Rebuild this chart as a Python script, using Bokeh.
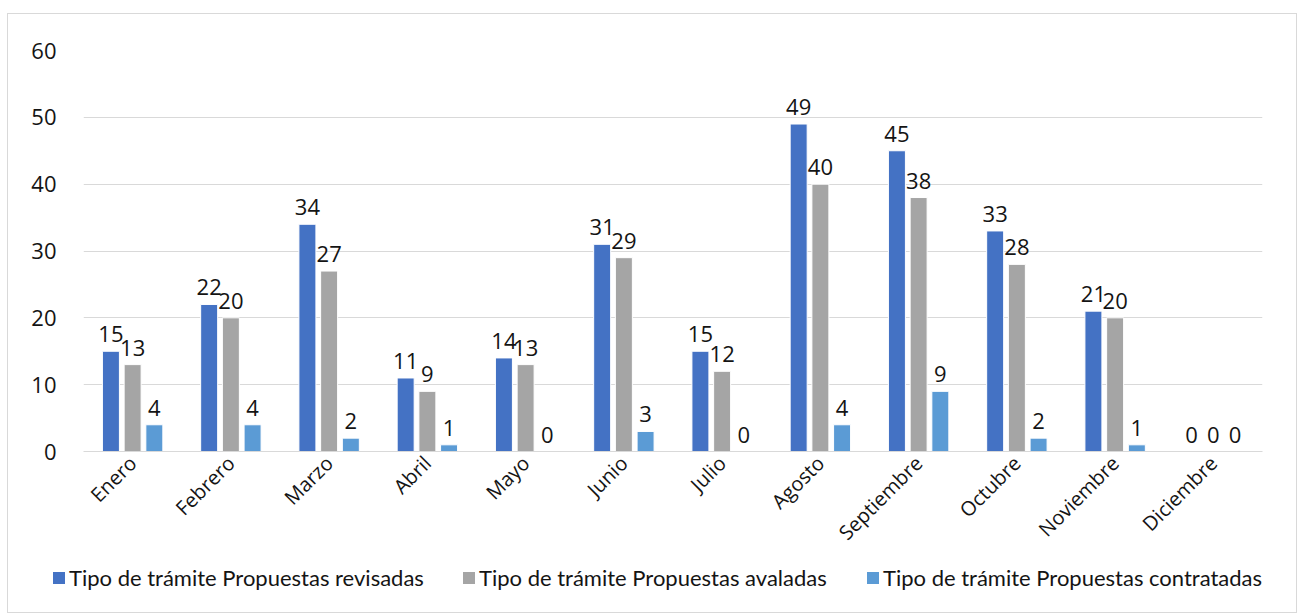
import math
from bokeh.plotting import figure
from bokeh.layouts import column
from bokeh.models import (ColumnDataSource, FactorRange, Range1d, FixedTicker, Div)
from bokeh.transform import dodge
from bokeh.core.properties import value
from bokeh.embed import file_html
from bokeh.resources import INLINE

months = ["Enero", "Febrero", "Marzo", "Abril", "Mayo", "Junio", "Julio",
          "Agosto", "Septiembre", "Octubre", "Noviembre", "Diciembre"]
revisadas = [15, 22, 34, 11, 14, 31, 15, 49, 45, 33, 21, 0]
avaladas = [13, 20, 27, 9, 13, 29, 12, 40, 38, 28, 20, 0]
contratadas = [4, 4, 2, 1, 0, 3, 0, 4, 9, 2, 1, 0]
series_names = ["Tipo de trámite Propuestas revisadas",
                "Tipo de trámite Propuestas avaladas",
                "Tipo de trámite Propuestas contratadas"]
colors = ["#4472C4", "#A5A5A5", "#5B9BD5"]
y_ticks = [0, 10, 20, 30, 40, 50, 60]

W = 1288
H1, H2 = 545, 53
p = figure(x_range=FactorRange(*months), y_range=Range1d(0, 60),
           width=W, height=H1, output_backend="svg", toolbar_location=None,
           min_border_left=75, min_border_right=34, min_border_top=36,
           min_border_bottom=H1 - 437)
p.outline_line_color = None
p.background_fill_color = "white"
p.border_fill_color = "white"

src = ColumnDataSource(dict(month=months, r=revisadas, a=avaladas, c=contratadas,
                            rl=[str(v) for v in revisadas],
                            al=[str(v) for v in avaladas],
                            cl=[str(v) for v in contratadas]))

offsets = [-0.221, 0.0, 0.221]
fields = ["r", "a", "c"]
lfields = ["rl", "al", "cl"]
for off, f, lf, col, name in zip(offsets, fields, lfields, colors, series_names):
    xd = dodge("month", off, range=p.x_range)
    p.vbar(x=xd, top=f, width=0.173, source=src, fill_color=col,
           line_color="white", line_width=1, name=name)
    p.text(x=xd, y=f, text=lf, source=src, text_align="center",
           text_baseline="alphabetic", y_offset=-17,
           text_font=value("Open Sans"), text_font_size="22px",
           text_color="#141414")

# axes
p.yaxis.ticker = FixedTicker(ticks=y_ticks)
p.yaxis.axis_line_color = None
p.yaxis.major_tick_line_color = None
p.yaxis.minor_tick_line_color = None
p.yaxis.major_label_text_font = "Open Sans"
p.yaxis.major_label_text_font_size = "22px"
p.yaxis.major_label_text_color = "#141414"
p.yaxis.major_label_standoff = 21

p.xaxis.axis_line_color = "#D9D9D9"
p.xaxis.major_tick_line_color = None
p.xaxis.major_tick_out = 0
p.xaxis.major_label_orientation = math.pi / 4
p.xaxis.major_label_text_font = "Open Sans"
p.xaxis.major_label_text_font_size = "20px"
p.xaxis.major_label_text_color = "#141414"
p.xaxis.major_label_standoff = 8

p.xgrid.grid_line_color = None
p.ygrid.grid_line_color = "#D9D9D9"
p.ygrid.grid_line_width = 1

# legend strip (HTML, real text)
legend_x = [45, 455, 859]
parts = []
for name, col, lx in zip(series_names, colors, legend_x):
    parts.append(
        f'<span style="position:absolute;left:{lx}px;top:13px;width:12px;height:12px;'
        f'background:{col};"></span>'
        f'<span style="position:absolute;left:{lx + 16}px;top:7px;line-height:24px;'
        f'white-space:nowrap;">{name}</span>')
html = ('<div style="position:relative;width:%dpx;height:%dpx;font-family:Lato;'
        'font-size:22px;color:#141414;">%s</div>' % (W, H2, "".join(parts)))
leg = Div(text=html, width=W, height=H2, margin=0)

layout = column(p, leg, spacing=0, margin=(13, 0, 0, 7),
                styles={"border": "1px solid #D9D9D9"})

open("out.html", "w").write(file_html(layout, INLINE))
